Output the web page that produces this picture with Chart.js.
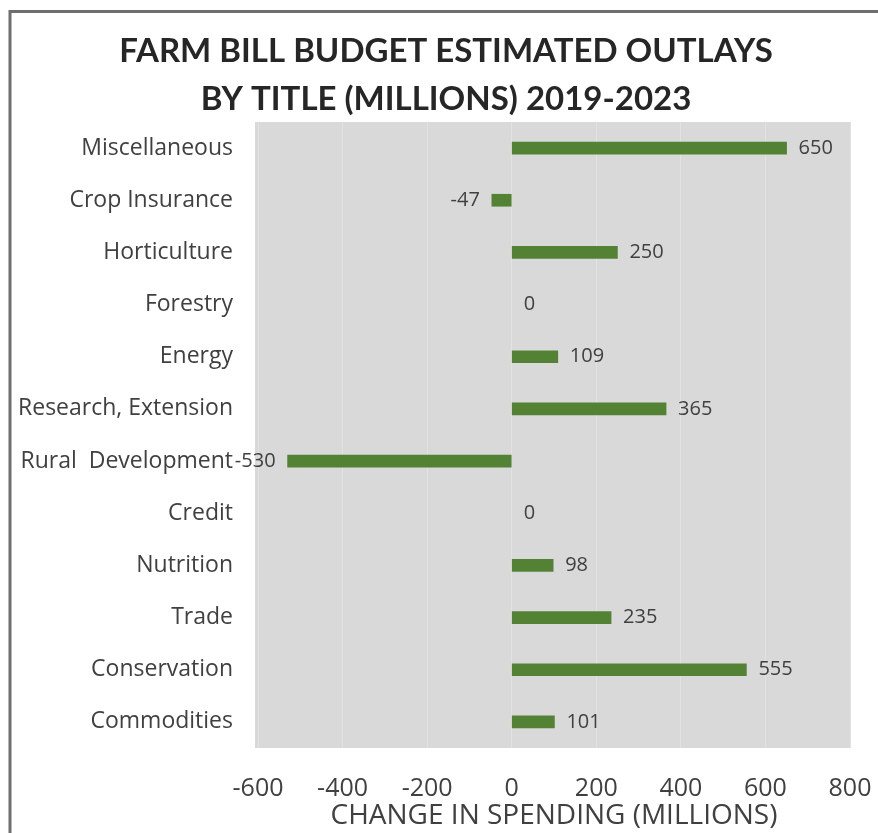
<!DOCTYPE html>
<html>
<head>
<meta charset="utf-8">
<script src="https://cdn.jsdelivr.net/npm/chart.js@4.4.0/dist/chart.umd.min.js"></script>
<style>
  html, body { margin: 0; padding: 0; background: #fff; }
  #wrap { position: relative; width: 878px; height: 833px; }
</style>
</head>
<body>
<div id="wrap"><canvas id="chart" width="878" height="833"></canvas></div>
<script>
const categories = ['Miscellaneous', 'Crop Insurance', 'Horticulture', 'Forestry', 'Energy',
    'Research, Extension', 'Rural  Development', 'Credit', 'Nutrition', 'Trade', 'Conservation', 'Commodities'];
const spending = [650, -47, 250, 0, 109, 365, -530, 0, 98, 235, 555, 101];
const xTicks = [-600, -400, -200, 0, 200, 400, 600, 800];
const titleLines = ['FARM BILL BUDGET ESTIMATED OUTLAYS', 'BY TITLE (MILLIONS) 2019-2023'];
const xTitle = 'CHANGE IN SPENDING (MILLIONS)';

const textColor = '#404040';
const barColor = '#548235';
const bodyFont = '"Open Sans", Lato, sans-serif';
const titleFont = 'Lato, "Open Sans", sans-serif';

// gray plot background + frame lines
const backdrop = {
    id: 'backdrop',
    beforeDraw(chart) {
        const { ctx, chartArea: a } = chart;
        ctx.save();
        ctx.fillStyle = '#d9d9d9';
        ctx.fillRect(a.left - 3, a.top, a.right - a.left + 3, a.bottom - a.top);
        ctx.strokeStyle = '#6e6e6e';
        ctx.lineWidth = 3;
        ctx.beginPath();
        ctx.moveTo(10, 833);
        ctx.lineTo(10, 11.5);
        ctx.lineTo(878, 11.5);
        ctx.stroke();
        ctx.restore();
    }
};

// two-line chart title, centred like the original
const chartTitle = {
    id: 'chartTitle',
    afterDraw(chart) {
        const { ctx } = chart;
        ctx.save();
        ctx.font = 'bold 33px ' + titleFont;
        ctx.fillStyle = '#262626';
        ctx.textAlign = 'center';
        ctx.textBaseline = 'middle';
        titleLines.forEach((line, i) => ctx.fillText(line, 446, 51 + i * 48));
        ctx.restore();
    }
};

// value labels at bar ends
const barLabels = {
    id: 'barLabels',
    afterDatasetsDraw(chart) {
        const { ctx } = chart;
        const meta = chart.getDatasetMeta(0);
        ctx.save();
        ctx.font = '20px ' + bodyFont;
        ctx.fillStyle = textColor;
        ctx.textBaseline = 'middle';
        meta.data.forEach((bar, i) => {
            const v = spending[i];
            if (v < 0) {
                ctx.textAlign = 'right';
                ctx.fillText(String(v), bar.x - 12, bar.y);
            } else {
                ctx.textAlign = 'left';
                ctx.fillText(String(v), bar.x + 12, bar.y);
            }
        });
        ctx.restore();
    }
};

new Chart(document.getElementById('chart'), {
    type: 'bar',
    data: {
        labels: categories,
        datasets: [{
            data: spending,
            backgroundColor: c => (c.raw === 0 ? 'rgba(0,0,0,0)' : barColor),
            barThickness: 12
        }]
    },
    options: {
        indexAxis: 'y',
        responsive: false,
        animation: false,
        layout: { padding: { left: 8, right: 28, top: 122, bottom: 0 } },
        scales: {
            x: {
                min: -600,
                max: 800,
                afterBuildTicks: s => { s.ticks = xTicks.map(v => ({ value: v })); },
                afterFit: s => { s.height = 85; s.paddingLeft = 0; s.paddingRight = 0; },
                border: { display: false },
                grid: { color: '#e2e2e2', lineWidth: 1, drawTicks: false },
                ticks: { color: textColor, padding: 26, maxRotation: 0, font: { family: bodyFont, size: 25 } },
                title: {
                    display: true,
                    text: xTitle,
                    color: textColor,
                    padding: { top: 0, bottom: 0 },
                    font: { family: bodyFont, size: 28 }
                }
            },
            y: {
                afterFit: s => { s.width = 250; },
                border: { display: false },
                grid: { display: false, drawTicks: false },
                ticks: { color: textColor, padding: 25, font: { family: bodyFont, size: 23 } }
            }
        },
        plugins: {
            legend: { display: false },
            tooltip: { enabled: false },
            title: { display: false }
        }
    },
    plugins: [backdrop, chartTitle, barLabels]
});
</script>
</body>
</html>
